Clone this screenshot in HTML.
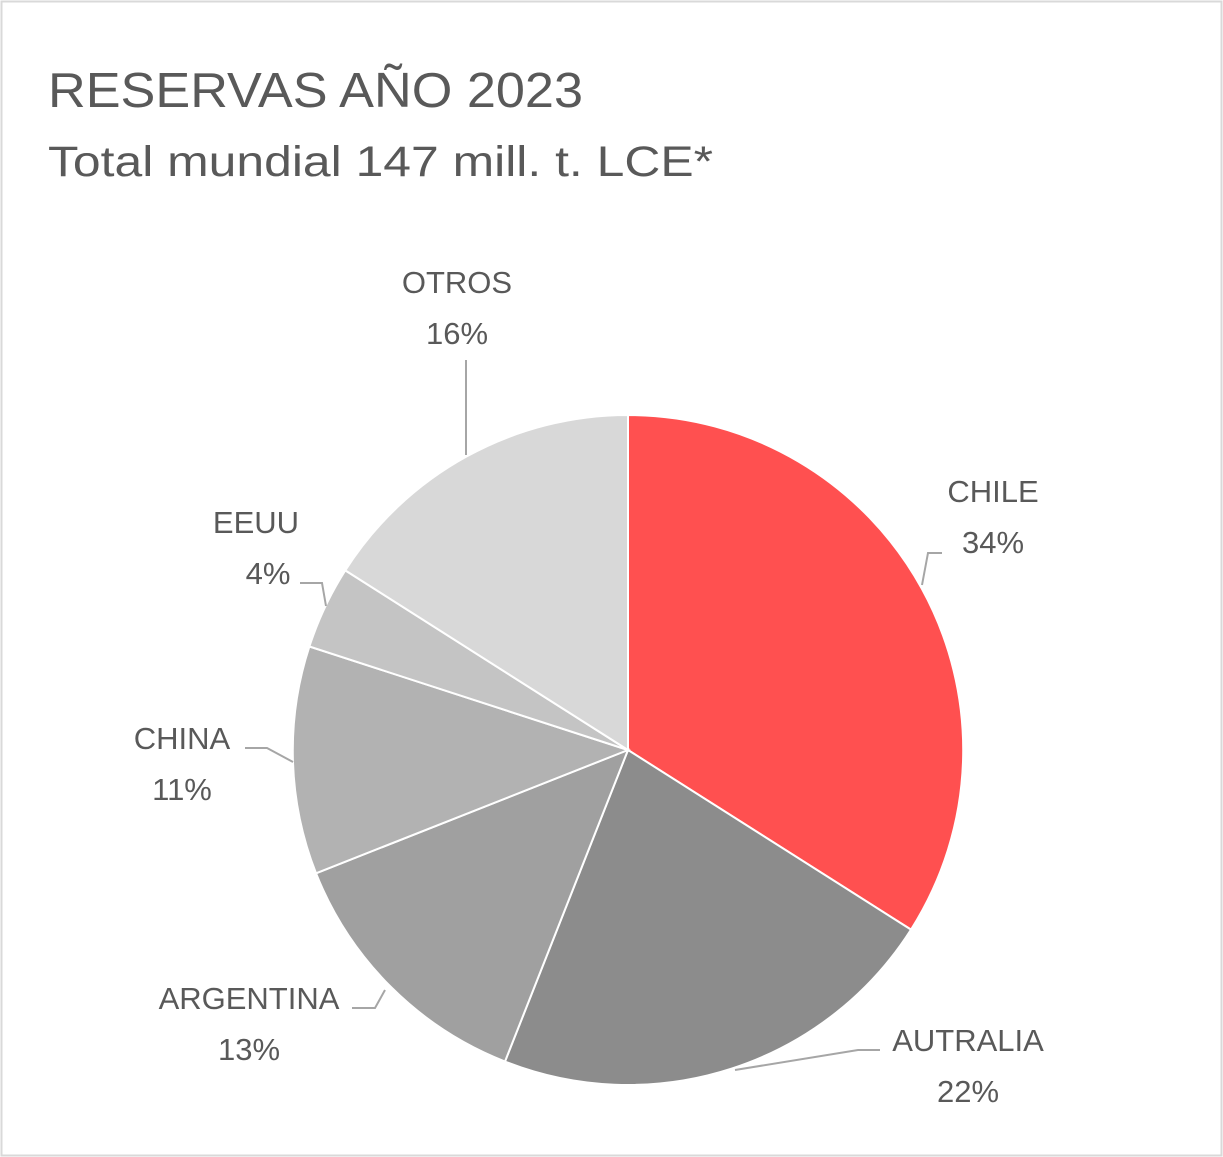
<!DOCTYPE html>
<html><head><meta charset="utf-8"><style>
html,body{margin:0;padding:0;background:#fff;}
svg{display:block;}
text{font-family:"Liberation Sans",sans-serif;fill:#595959;}
</style></head><body>
<svg width="1223" height="1157" viewBox="0 0 1223 1157">
<rect x="1.5" y="1.5" width="1220" height="1154" fill="#fff" stroke="#d9d9d9" stroke-width="2"/>
<text x="48" y="107" font-size="49" textLength="535" lengthAdjust="spacingAndGlyphs">RESERVAS AÑO 2023</text>
<text x="48" y="176" font-size="43" textLength="665" lengthAdjust="spacingAndGlyphs">Total mundial 147 mill. t. LCE*</text>
<g stroke="#fff" stroke-width="2">
<path d="M628,750 L628,415 A335,335 0 0 1 911,929.6 Z" fill="#FF5050"/>
<path d="M628,750 L911,929.6 A335,335 0 0 1 505,1061.5 Z" fill="#8C8C8C"/>
<path d="M628,750 L505,1061.5 A335,335 0 0 1 316,873.3 Z" fill="#A0A0A0"/>
<path d="M628,750 L316,873.3 A335,335 0 0 1 309.4,646.5 Z" fill="#B2B2B2"/>
<path d="M628,750 L309.4,646.5 A335,335 0 0 1 345.3,570.4 Z" fill="#C4C4C4"/>
<path d="M628,750 L345.3,570.4 A335,335 0 0 1 628,415 Z" fill="#D8D8D8"/>
</g>
<g stroke="#A6A6A6" stroke-width="2" fill="none">
<polyline points="922,585 928,553 942,553"/>
<polyline points="735,1070 858,1050 880,1050"/>
<polyline points="385,990 375,1008 352,1008"/>
<polyline points="293,762 267,748 245,748"/>
<polyline points="326,606 322,583 300,583"/>
<polyline points="466,455 466,360"/>
</g>
<g font-size="31" text-anchor="middle">
<text x="993" y="502">CHILE</text><text x="993" y="553">34%</text>
<text x="968" y="1051">AUTRALIA</text><text x="968" y="1102">22%</text>
<text x="249" y="1009">ARGENTINA</text><text x="249" y="1060">13%</text>
<text x="182" y="749">CHINA</text><text x="182" y="800">11%</text>
<text x="256" y="533">EEUU</text><text x="268" y="584">4%</text>
<text x="457" y="293">OTROS</text><text x="457" y="344">16%</text>
</g>
</svg>
</body></html>
